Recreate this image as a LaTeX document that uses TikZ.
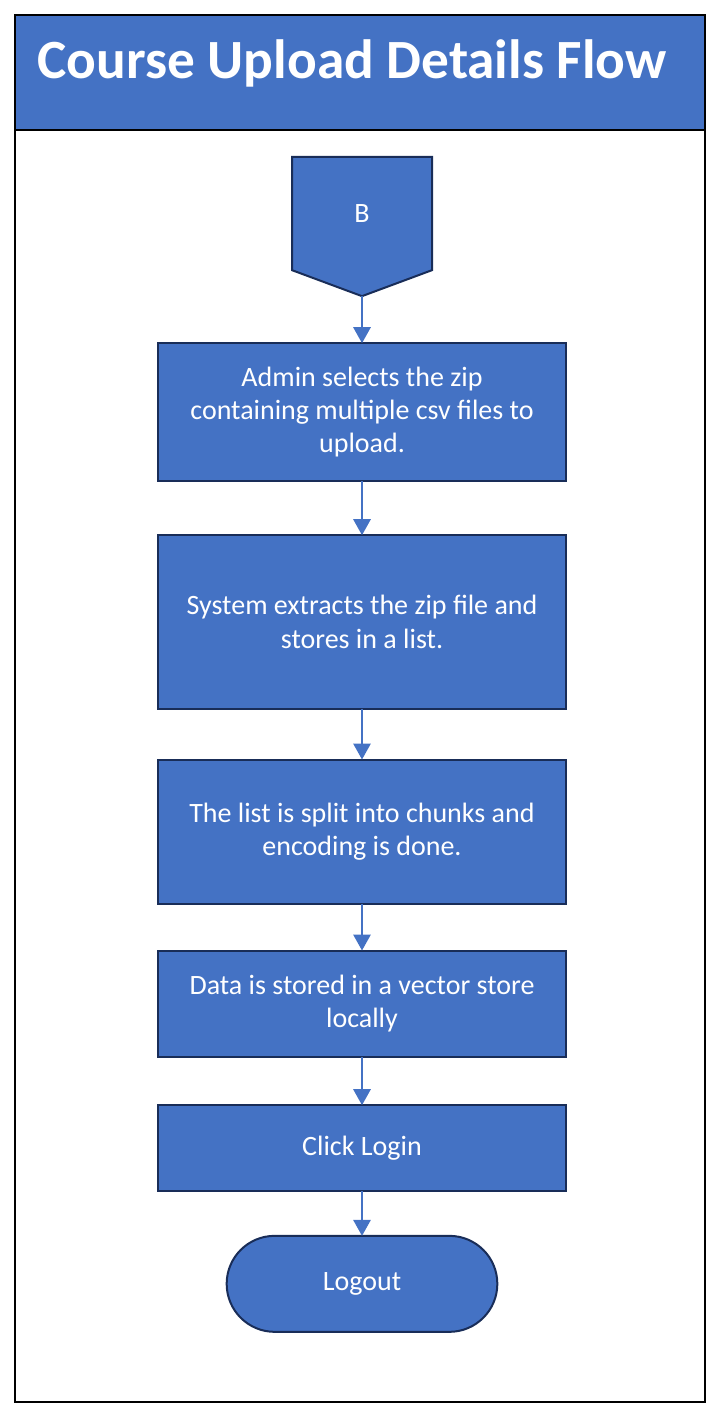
\documentclass[tikz,border=0pt]{standalone}
\usepackage{fontspec}
\setmainfont{Carlito}
\usetikzlibrary{arrows.meta, positioning, calc}
\definecolor{flowblue}{RGB}{68, 114, 196}
\definecolor{edgenavy}{RGB}{25, 45, 88}
\tikzset{
  >=Triangle,
  flowbox/.style={draw=edgenavy, line width=1.5pt, outer sep=0pt, fill=flowblue, text=white, align=center, minimum width=306pt, font=\fontsize{21}{25}\selectfont},
  offpage/.style={minimum width=105pt, minimum height=85pt, outer sep=0pt, text=white, font=\fontsize{21}{25}\selectfont},
  terminal/.style={flowbox, minimum width=203pt, minimum height=72pt, rounded corners=36pt},
  flowarrow/.style={-{Triangle[length=12pt, width=13pt]}, line width=1.5pt, flowblue}
}

\begin{document}
\begin{tikzpicture}[x=0.75pt, y=-0.75pt]
\useasboundingbox (0,0) rectangle (720,1420);
% frame and title band
\draw[line width=1.5pt] (15,15) rectangle (705,1402);
\draw[line width=1.5pt, fill=flowblue] (15,15) rectangle (705,130);
\node[anchor=west, text=white, font=\fontsize{41.5}{48}\selectfont\bfseries] (title) at (33,63) {Course Upload Details Flow};

% off-page connector
\node[offpage] (conn) at (362,213.5) {};
\coordinate (conn tip) at ($(conn.south)+(0,-19.5pt)$);
\draw[draw=edgenavy, line width=1.5pt, fill=flowblue] (conn.north west) -- (conn.north east) -- (conn.south east) -- (conn tip) -- (conn.south west) -- cycle;
\node[offpage] (conn label) at (conn) {B};

% steps
\node[flowbox, minimum height=103.5pt, below=54.75pt of conn] (upload)
{Admin selects the zip\\containing multiple csv files to\\upload.};
\node[flowbox, minimum height=130pt, below=40.5pt of upload] (extract)
{System extracts the zip file and\\stores in a list.};
\node[flowbox, minimum height=108pt, below=38.25pt of extract] (chunks)
{The list is split into chunks and\\encoding is done.};
\node[flowbox, minimum height=80pt, below=35.25pt of chunks] (vstore)
{Data is stored in a vector store\\locally};
\node[flowbox, minimum height=64.5pt, below=36pt of vstore] (login) {Click Login};
\node[terminal, below=33.5pt of login] (logout) {Logout};

\draw[flowarrow] (conn tip) -- (upload);
\draw[flowarrow] (upload) -- (extract);
\draw[flowarrow] (extract) -- (chunks);
\draw[flowarrow] (chunks) -- (vstore);
\draw[flowarrow] (vstore) -- (login);
\draw[flowarrow] (login) -- (logout);
\end{tikzpicture}
\end{document}
